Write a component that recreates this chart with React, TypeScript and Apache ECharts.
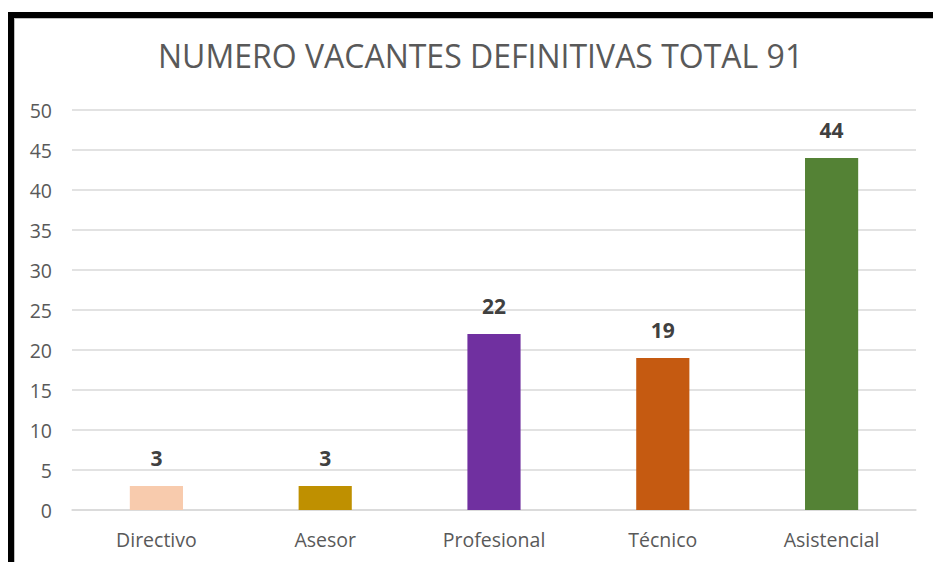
import React, { useEffect, useRef } from "react";
import * as echarts from "echarts";

const categories = ["Directivo", "Asesor", "Profesional", "Técnico", "Asistencial"];
const values = [3, 3, 22, 19, 44];
const barColors = ["#F8CBAD", "#BF9000", "#7030A0", "#C55A11", "#548235"];
const titleText = "NUMERO VACANTES DEFINITIVAS TOTAL 91";

const FONT = "'Open Sans', 'Noto Sans', sans-serif";

export default function App() {
  const ref = useRef<HTMLDivElement>(null);
  useEffect(() => {
    if (!ref.current) return;
    const chart = echarts.init(ref.current, undefined, { renderer: "svg" });
    chart.setOption({
      animation: false,
      backgroundColor: "#ffffff",
      title: {
        text: titleText,
        left: 158,
        top: 39,
        padding: 0,
        textStyle: { fontFamily: FONT, fontSize: 32, fontWeight: "normal", color: "#595959" },
      },
      grid: { left: 72, right: 17, top: 110, bottom: 52, containLabel: false },
      xAxis: {
        type: "category",
        data: categories,
        axisLine: { show: true, lineStyle: { color: "#D9D9D9", width: 1.5 } },
        axisTick: { show: false },
        axisLabel: { fontFamily: FONT, fontSize: 19.5, color: "#595959", margin: 19 },
      },
      yAxis: {
        type: "value",
        min: 0,
        max: 50,
        interval: 5,
        axisLine: { show: false },
        axisTick: { show: false },
        axisLabel: { fontFamily: FONT, fontSize: 19.5, color: "#595959", margin: 20 },
        splitLine: { lineStyle: { color: "#D9D9D9", width: 1.5 } },
      },
      series: [
        {
          type: "bar",
          barWidth: "31.5%",
          data: values.map((v, i) => ({ value: v, itemStyle: { color: barColors[i] } })),
          label: {
            show: true,
            position: "top",
            distance: 18,
            fontFamily: FONT,
            fontSize: 21,
            fontWeight: "bold",
            color: "#404040",
          },
        },
      ],
      graphic: [
        { type: "rect", shape: { x: 8, y: 12, width: 925, height: 6 }, style: { fill: "#000" } },
        { type: "rect", shape: { x: 8, y: 18, width: 925, height: 1 }, style: { fill: "#BFBFBF" } },
        { type: "rect", shape: { x: 8, y: 12, width: 6, height: 550 }, style: { fill: "#000" } },
        { type: "rect", shape: { x: 14, y: 18, width: 1, height: 544 }, style: { fill: "#BFBFBF" } },
      ],
    });
    return () => chart.dispose();
  }, []);
  return (
    <div
      ref={ref}
      style={{ position: "fixed", left: 0, top: 0, width: 933, height: 562 }}
    />
  );
}
